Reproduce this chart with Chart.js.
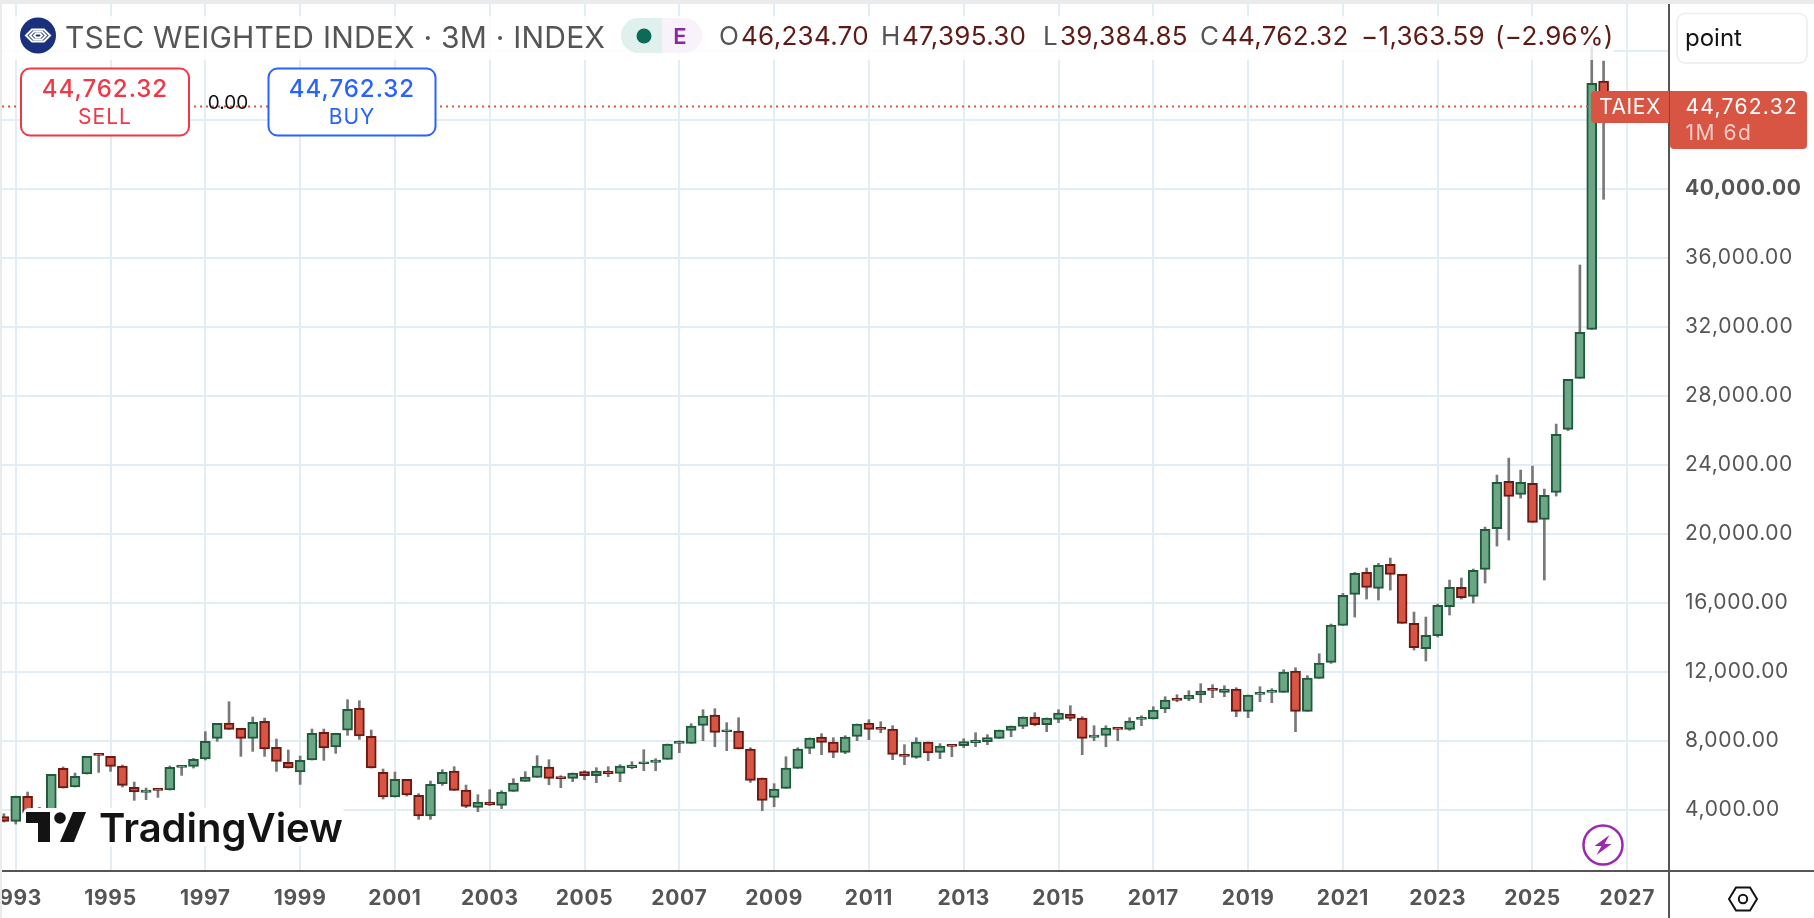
<!DOCTYPE html>
<html>
<head>
<meta charset="utf-8">
<title>TSEC WEIGHTED INDEX</title>
<style>
    html, body { margin: 0; padding: 0; background: #fff; overflow: hidden; }
    canvas { display: block; }
</style>
<script src="https://cdn.jsdelivr.net/npm/chart.js@4/dist/chart.umd.min.js"></script>
</head>
<body>
<canvas id="tradeChart" width="1814" height="918"></canvas>
<script>
const quarters = [
    '1992-Q4',
    '1993-Q1','1993-Q2','1993-Q3','1993-Q4','1994-Q1','1994-Q2','1994-Q3','1994-Q4',
    '1995-Q1','1995-Q2','1995-Q3','1995-Q4','1996-Q1','1996-Q2','1996-Q3','1996-Q4',
    '1997-Q1','1997-Q2','1997-Q3','1997-Q4','1998-Q1','1998-Q2','1998-Q3','1998-Q4',
    '1999-Q1','1999-Q2','1999-Q3','1999-Q4','2000-Q1','2000-Q2','2000-Q3','2000-Q4',
    '2001-Q1','2001-Q2','2001-Q3','2001-Q4','2002-Q1','2002-Q2','2002-Q3','2002-Q4',
    '2003-Q1','2003-Q2','2003-Q3','2003-Q4','2004-Q1','2004-Q2','2004-Q3','2004-Q4',
    '2005-Q1','2005-Q2','2005-Q3','2005-Q4','2006-Q1','2006-Q2','2006-Q3','2006-Q4',
    '2007-Q1','2007-Q2','2007-Q3','2007-Q4','2008-Q1','2008-Q2','2008-Q3','2008-Q4',
    '2009-Q1','2009-Q2','2009-Q3','2009-Q4','2010-Q1','2010-Q2','2010-Q3','2010-Q4',
    '2011-Q1','2011-Q2','2011-Q3','2011-Q4','2012-Q1','2012-Q2','2012-Q3','2012-Q4',
    '2013-Q1','2013-Q2','2013-Q3','2013-Q4','2014-Q1','2014-Q2','2014-Q3','2014-Q4',
    '2015-Q1','2015-Q2','2015-Q3','2015-Q4','2016-Q1','2016-Q2','2016-Q3','2016-Q4',
    '2017-Q1','2017-Q2','2017-Q3','2017-Q4','2018-Q1','2018-Q2','2018-Q3','2018-Q4',
    '2019-Q1','2019-Q2','2019-Q3','2019-Q4','2020-Q1','2020-Q2','2020-Q3','2020-Q4',
    '2021-Q1','2021-Q2','2021-Q3','2021-Q4','2022-Q1','2022-Q2','2022-Q3','2022-Q4',
    '2023-Q1','2023-Q2','2023-Q3','2023-Q4','2024-Q1','2024-Q2','2024-Q3','2024-Q4',
    '2025-Q1','2025-Q2','2025-Q3','2025-Q4','2026-Q1','2026-Q2','2026-Q3'
];

const opens = [
    3594,
    3324,4773,3950,4000,6396,5314,6067,7207,
    7091,6531,5294,5005,5198,5140,6454,6512,
    6937,8134,9023,8714,8134,9120,7613,6743,
    6183,6879,8482,7632,8617,9873,8250,6164,
    4734,5758,4831,3633,5507,6241,5140,4135,
    4444,4251,5063,5642,5874,6473,5913,5816,
    6203,5971,6241,6106,6434,6666,6743,6917,
    7845,7845,8888,9487,8521,8560,7516,5835,
    4715,5236,6396,7555,8212,7922,7323,8250,
    9023,8753,8675,7169,7034,7923,7324,7749,
    7710,7884,7942,8135,8599,8831,9372,8927,
    9236,9546,9314,8193,8309,8753,8657,9236,
    9256,9835,10415,10415,10647,10995,10801,10995,
    9700,10686,10801,10801,12038,9700,11613,12540,
    14685,16482,17757,16830,18221,17641,14801,13333,
    14087,15767,16888,16366,17931,20288,23032,22278,
    22916,20829,22394,26052,29008,31849,46234.70
];

const highs = [
    3768,
    4790,5024,4135,6048,6473,6125,7091,7226,
    7091,6589,5604,5256,5198,6531,6531,6975,
    8521,9004,10260,8714,9371,9313,8096,7458,
    7111,8675,8675,8424,10376,10318,8617,6357,
    6183,5758,4927,5662,6318,6492,5430,4869,
    5159,5101,5797,6203,7130,6898,5971,6125,
    6260,6434,6492,6608,6782,7478,6956,7806,
    8000,8985,9796,9854,9043,9332,7594,5835,
    5507,7072,7594,8154,8405,8173,8289,8965,
    9216,9100,8869,7768,8174,7923,7826,7749,
    8116,8464,8348,8618,8850,9372,9623,9314,
    9797,10029,9391,8869,8869,8753,9333,9449,
    9971,10550,10666,10898,11304,11246,11188,11072,
    10647,11130,11014,12115,12231,11767,13042,14762,
    16540,17757,18009,18279,18588,17641,15458,15168,
    15922,17313,17429,17951,20385,23399,24384,23689,
    23920,22587,26355,28950,35577,48230,47395.30
];

const lows = [
    3285,
    3169,3710,3700,3900,5256,5314,6067,6164,
    6222,5314,4541,4580,4715,5140,5990,6415,
    6879,7961,8656,7091,7381,7091,6222,6415,
    5468,6879,6859,7265,8308,8077,6415,4618,
    4734,4792,3440,3440,5410,5121,4116,3884,
    4232,4058,5063,5642,5874,5449,5275,5623,
    5739,5565,5913,5623,6376,6260,6260,6917,
    7304,7845,8000,7651,7420,7516,5584,3942,
    4174,5236,6396,7246,7188,7014,7246,8000,
    8057,8463,6898,6609,6976,6841,6957,7073,
    7594,7652,7768,8135,8232,8696,8869,8522,
    9043,9159,7189,8000,7652,8000,8599,8869,
    9256,9623,10260,10318,10203,10492,10550,9391,
    9333,10260,10203,10801,8522,9700,11613,12482,
    14685,15168,16212,16154,16733,14801,13256,12618,
    14009,15284,16212,15980,17139,19284,19631,22066,
    20655,17313,22182,25975,29008,31849,39384.85
];

const closes = [
    3324,
    4773,3807,4000,6048,5256,5932,7091,7149,
    6512,5410,5024,5140,5121,6454,6531,6917,
    7961,9004,8656,8134,9062,7516,6801,6415,
    6859,8424,7574,8424,9815,8270,6415,4734,
    5758,4850,3633,5468,6164,5121,4193,4444,
    4290,5024,5546,5893,6531,5816,5797,6125,
    5971,6241,6087,6531,6589,6763,6879,7806,
    7941,8849,9429,8482,8617,7516,5700,4541,
    5198,6415,7516,8154,7903,7323,8212,8965,
    8656,8656,7207,7092,7923,7285,7691,7672,
    7942,8039,8174,8618,8850,9372,8927,9314,
    9604,9294,8135,8328,8734,8657,9140,9333,
    9777,10357,10338,10628,10879,10917,10995,9700,
    10647,10763,10898,11980,9700,11632,12502,14704,
    16424,17699,16888,18163,17641,14801,13391,14106,
    15845,16888,16289,17873,20250,22974,22162,22974,
    20655,22220,25756,28950,31675,46110,44762.32
];

const xTickYears = [1993,1995,1997,1999,2001,2003,2005,2007,2009,2011,2013,2015,2017,2019,2021,2023,2025,2027];
const yTickValues = [4000,8000,12000,16000,20000,24000,28000,32000,36000,40000,44000,48000];
const legendValues = { open: '46,234.70', high: '47,395.30', low: '39,384.85', close: '44,762.32', change: '\u22121,363.59', percent: '(\u22122.96%)' };

const UP_FILL = '#6ba785', UP_EDGE = '#1f5a3d';
const DOWN_FILL = '#d85543', DOWN_EDGE = '#6a1a14';
const GRID = '#e3edf4', AXIS = '#555555', TEXT = '#555555', VALUE = '#5e1b15';
const FONT = 'Inter, "Liberation Sans", sans-serif';

function quarterToYear(q) {
    return parseInt(q.slice(0, 4)) + (parseInt(q.slice(6)) - 1) / 4;
}

function txt(ctx, s, x, y, font, color, align, spacing) {
    ctx.font = font;
    ctx.fillStyle = color;
    ctx.textAlign = align || 'left';
    ctx.textBaseline = 'alphabetic';
    ctx.letterSpacing = spacing || '0px';
    ctx.fillText(s, x, y);
    ctx.letterSpacing = '0px';
}

function box(ctx, x, y, w, h, r, fill, stroke, lw) {
    ctx.beginPath();
    ctx.roundRect(x, y, w, h, r);
    if (fill) { ctx.fillStyle = fill; ctx.fill(); }
    if (stroke) { ctx.strokeStyle = stroke; ctx.lineWidth = lw; ctx.stroke(); }
}

function drawLegend(ctx) {
    // legend sits on a translucent strip, gridlines fade behind it
    ctx.fillStyle = 'rgba(255,255,255,0.8)';
    ctx.fillRect(2, 16, 1612, 44);

    ctx.beginPath();
    ctx.arc(38, 35.5, 18, 0, Math.PI * 2);
    ctx.fillStyle = '#1a2f7d';
    ctx.fill();
    ctx.strokeStyle = '#fff';
    ctx.lineWidth = 2;
    [[12, 6], [8, 4], [4, 2]].forEach(([a, b]) => {
        ctx.beginPath();
        ctx.moveTo(38 - a, 35.5);
        ctx.lineTo(38 - a / 2, 35.5 - b);
        ctx.lineTo(38 + a / 2, 35.5 - b);
        ctx.lineTo(38 + a, 35.5);
        ctx.lineTo(38 + a / 2, 35.5 + b);
        ctx.lineTo(38 - a / 2, 35.5 + b);
        ctx.closePath();
        ctx.stroke();
    });

    txt(ctx, 'TSEC WEIGHTED INDEX \u00b7 3M \u00b7 INDEX', 65, 48, '400 30px ' + FONT, TEXT, 'left', '0.22px');

    box(ctx, 621, 18, 81, 35, 17.5, '#f8f2fb');
    ctx.beginPath();
    ctx.roundRect(621, 18, 41, 35, [17.5, 0, 0, 17.5]);
    ctx.fillStyle = '#e0f0ec';
    ctx.fill();
    ctx.beginPath();
    ctx.arc(644, 36, 7.5, 0, Math.PI * 2);
    ctx.fillStyle = '#0b6b57';
    ctx.fill();
    txt(ctx, 'E', 680, 44, '600 22px ' + FONT, '#8e24aa', 'center');

    const f = '400 26px ' + FONT;
    const s = '0.3px';
    txt(ctx, 'O', 719, 45, f, TEXT);
    txt(ctx, legendValues.open, 741, 45, f, VALUE, 'left', s);
    txt(ctx, 'H', 881, 45, f, TEXT);
    txt(ctx, legendValues.high, 902, 45, f, VALUE, 'left', s);
    txt(ctx, 'L', 1043, 45, f, TEXT);
    txt(ctx, legendValues.low, 1060, 45, f, VALUE, 'left', s);
    txt(ctx, 'C', 1200, 45, f, TEXT);
    txt(ctx, legendValues.close, 1221, 45, f, VALUE, 'left', s);
    txt(ctx, legendValues.change, 1361, 45, f, VALUE, 'left', s);
    txt(ctx, legendValues.percent, 1495, 45, f, VALUE, 'left', s);
}

function drawOrderButtons(ctx) {
    box(ctx, 21, 68.5, 168, 67, 9, '#fff', '#f23645', 2);
    txt(ctx, legendValues.close, 105, 97, '500 24px ' + FONT, '#f23645', 'center', '1px');
    txt(ctx, 'SELL', 105, 124, '400 21px ' + FONT, '#f23645', 'center', '1px');
    txt(ctx, '0.00', 228, 109, '400 19px ' + FONT, '#111', 'center');
    box(ctx, 268.5, 68.5, 167, 67, 9, '#fff', '#2962ff', 2);
    txt(ctx, legendValues.close, 352, 97, '500 24px ' + FONT, '#2962ff', 'center', '1px');
    txt(ctx, 'BUY', 352, 124, '400 21px ' + FONT, '#2962ff', 'center', '1px');
}

function drawWatermark(ctx) {
    box(ctx, 23, 808, 322, 38, 6, '#fff');
    ctx.fillStyle = '#131313';
    ctx.beginPath();
    ctx.moveTo(26, 812); ctx.lineTo(50, 812); ctx.lineTo(50, 842); ctx.lineTo(38, 842);
    ctx.lineTo(38, 823); ctx.lineTo(26, 823);
    ctx.closePath();
    ctx.fill();
    ctx.beginPath();
    ctx.arc(60, 818, 5.8, 0, Math.PI * 2);
    ctx.fill();
    ctx.beginPath();
    ctx.moveTo(73, 812); ctx.lineTo(86, 812); ctx.lineTo(74, 842); ctx.lineTo(60, 842);
    ctx.closePath();
    ctx.fill();
    txt(ctx, 'TradingView', 99, 842, '600 40px ' + FONT, '#131313');
}

function drawPriceTags(ctx) {
    box(ctx, 1591, 91, 78, 32, [4, 0, 0, 4], DOWN_FILL);
    txt(ctx, 'TAIEX', 1630, 114, '400 21px ' + FONT, '#fff', 'center', '0.6px');
    box(ctx, 1670, 91, 137, 58, [0, 4, 4, 4], DOWN_FILL);
    txt(ctx, legendValues.close, 1685.5, 114, '400 21px ' + FONT, '#fff', 'left', '1.3px');
    txt(ctx, '1M 6d', 1685.5, 140, '400 21px ' + FONT, 'rgba(255,255,255,0.7)', 'left', '1.5px');

    box(ctx, 1677, 13.5, 130, 49.5, 8, '#fff', '#ececec', 1.5);
    txt(ctx, 'point', 1685, 46, '400 24px ' + FONT, '#131313');
}

function drawIcons(ctx) {
    ctx.strokeStyle = '#9c27b0';
    ctx.lineWidth = 2.5;
    ctx.beginPath();
    ctx.arc(1603, 845, 19.5, 0, Math.PI * 2);
    ctx.stroke();
    ctx.fillStyle = '#9c27b0';
    ctx.beginPath();
    ctx.moveTo(1609.5, 835); ctx.lineTo(1594.5, 846); ctx.lineTo(1601.5, 846); ctx.lineTo(1596.5, 855);
    ctx.lineTo(1611.5, 844); ctx.lineTo(1604.5, 844);
    ctx.closePath();
    ctx.fill();

    ctx.strokeStyle = '#131313';
    ctx.lineWidth = 2;
    ctx.beginPath();
    ctx.moveTo(1729, 899); ctx.lineTo(1736, 887.5); ctx.lineTo(1750, 887.5);
    ctx.lineTo(1757, 899); ctx.lineTo(1750, 910.5); ctx.lineTo(1736, 910.5);
    ctx.closePath();
    ctx.stroke();
    ctx.beginPath();
    ctx.arc(1743, 899, 4.2, 0, Math.PI * 2);
    ctx.stroke();
}

const overlayPlugin = {
    id: 'overlay',
    beforeDraw(chart) {
        // axis labels are slightly tracked out in the original
        chart.ctx.letterSpacing = '0.65px';
    },
    afterDatasetsDraw(chart) {
        const ctx = chart.ctx;
        const area = chart.chartArea;
        const y = chart.scales.y.getPixelForValue(closes[closes.length - 1]);
        ctx.save();
        ctx.strokeStyle = '#d85543';
        ctx.lineWidth = 2;
        ctx.setLineDash([2, 4]);
        ctx.beginPath();
        ctx.moveTo(area.left, y);
        ctx.lineTo(1590, y);
        ctx.stroke();
        ctx.restore();
    },
    afterDraw(chart) {
        const ctx = chart.ctx;
        ctx.save();
        ctx.letterSpacing = '0px';
        drawLegend(ctx);
        drawOrderButtons(ctx);
        drawWatermark(ctx);
        drawIcons(ctx);

        // axes run past the plot area to the window edges
        ctx.strokeStyle = AXIS;
        ctx.lineWidth = 2;
        ctx.beginPath();
        ctx.moveTo(2, 871); ctx.lineTo(1814, 871);
        ctx.moveTo(1669, 4); ctx.lineTo(1669, 918);
        ctx.stroke();

        drawPriceTags(ctx);

        ctx.fillStyle = '#ebebeb';
        ctx.fillRect(0, 0, 1814, 4);
        ctx.fillRect(0, 0, 2, 918);
        ctx.restore();
    }
};

new Chart(document.getElementById('tradeChart').getContext('2d'), {
    type: 'bar',
    data: {
        datasets: [
            {
                label: 'Body',
                order: 1,
                grouped: false,
                data: quarters.map((q, i) => ({ x: quarterToYear(q), y: [opens[i], closes[i]] })),
                backgroundColor: closes.map((c, i) => c >= opens[i] ? UP_FILL : DOWN_FILL),
                borderColor: closes.map((c, i) => c >= opens[i] ? UP_EDGE : DOWN_EDGE),
                borderWidth: 2,
                borderSkipped: false,
                barThickness: 10,
                minBarLength: 2
            },
            {
                label: 'Wick',
                order: 2,
                grouped: false,
                data: quarters.map((q, i) => ({ x: quarterToYear(q), y: [lows[i], highs[i]] })),
                backgroundColor: '#787878',
                borderWidth: 0,
                barThickness: 2
            }
        ]
    },
    options: {
        responsive: false,
        animation: false,
        events: [],
        layout: { padding: { top: 4, left: 2 } },
        plugins: { legend: { display: false }, tooltip: { enabled: false } },
        scales: {
            x: {
                type: 'linear',
                offset: false,
                min: 1992.71,
                max: 2027.88,
                afterBuildTicks(scale) {
                    scale.ticks = xTickYears.map(v => ({ value: v }));
                },
                afterFit(scale) {
                    scale.height = 47;
                    scale.paddingLeft = 0;
                    scale.paddingRight = 0;
                },
                grid: { color: GRID, lineWidth: 2, drawTicks: false, offset: false },
                border: { display: false },
                ticks: {
                    autoSkip: false,
                    maxRotation: 0,
                    padding: 15,
                    color: TEXT,
                    font: { family: FONT, size: 21, weight: '700' },
                    callback: v => String(v)
                }
            },
            y: {
                position: 'right',
                min: 446,
                max: 50707,
                afterBuildTicks(scale) {
                    scale.ticks = yTickValues.map(v => ({ value: v }));
                },
                afterFit(scale) {
                    scale.width = 145;
                    scale.paddingTop = 0;
                    scale.paddingBottom = 0;
                },
                grid: { color: GRID, lineWidth: 2, drawTicks: false },
                border: { display: false },
                ticks: {
                    padding: 16,
                    color: TEXT,
                    font: ctx => ({
                        family: FONT,
                        size: 21,
                        weight: ctx.tick && ctx.tick.value === 40000 ? '700' : '400'
                    }),
                    callback: v => v.toLocaleString('en-US', { minimumFractionDigits: 2, maximumFractionDigits: 2 })
                }
            }
        }
    },
    plugins: [overlayPlugin]
});
</script>
</body>
</html>
